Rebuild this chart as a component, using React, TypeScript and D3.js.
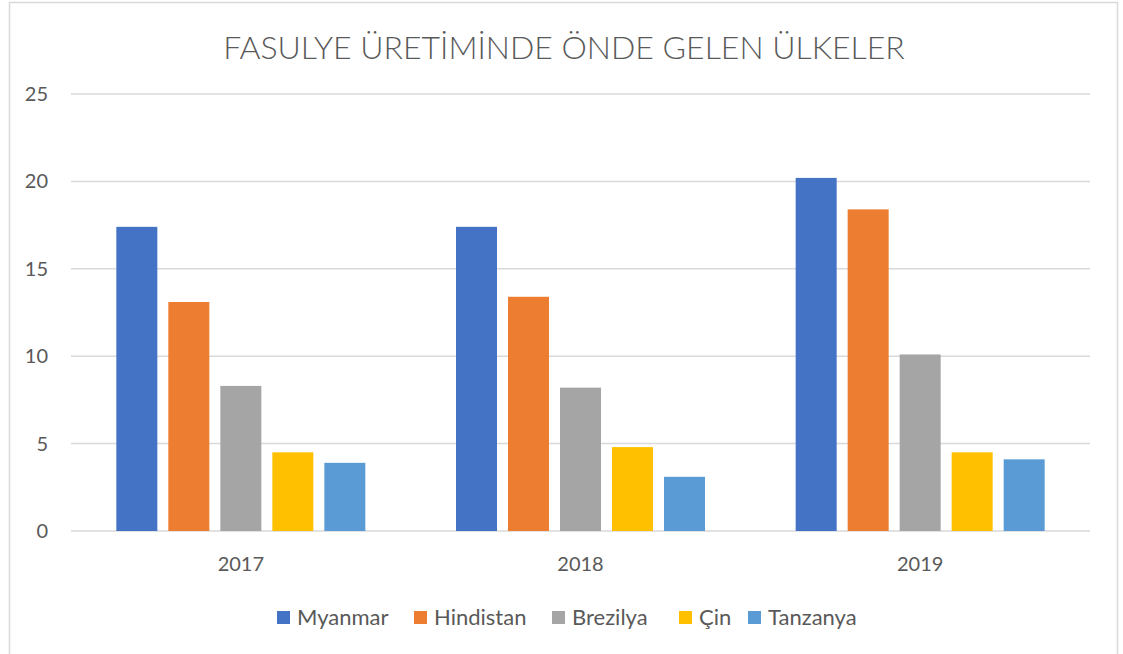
import React from "react";
import * as d3 from "d3";

const years = ["2017", "2018", "2019"];
const seriesNames = ["Myanmar", "Hindistan", "Brezilya", "Çin", "Tanzanya"];
const myanmar = [17.4, 17.4, 20.2];
const hindistan = [13.1, 13.4, 18.4];
const brezilya = [8.3, 8.2, 10.1];
const cin = [4.5, 4.8, 4.5];
const tanzanya = [3.9, 3.1, 4.1];
const yTicks = [0, 5, 10, 15, 20, 25];
const colors = ["#4472C4", "#ED7D31", "#A5A5A5", "#FFC000", "#5B9BD5"];
const title = "FASULYE ÜRETİMİNDE ÖNDE GELEN ÜLKELER";

const seriesValues = [myanmar, hindistan, brezilya, cin, tanzanya];

const W = 1123;
const H = 654;
const FONT = "Lato, 'Open Sans', sans-serif";

export default function App() {
  const left = 71, right = 1090, top = 94, bottom = 531;
  const y = d3.scaleLinear().domain([0, 25]).range([bottom, top]);
  const x0 = d3.scaleBand<string>().domain(years).range([left, right]).padding(0);
  const groupW = 249;
  const x1 = d3.scaleBand<string>().domain(seriesNames).range([0, groupW]).paddingInner(11 / 52).paddingOuter(0);
  const off = (x0.bandwidth() - groupW) / 2;

  const legendX = [277, 414, 552, 679, 748];

  return (
    <svg width={W} height={H} style={{ position: "absolute", left: 0, top: 0, background: "#fff" }}>
      <rect x={9.5} y={2.5} width={1108} height={700} fill="#fff" stroke="#d9d9d9" strokeWidth={1.5} />
      <text x={564} y={59} textAnchor="middle" fontFamily={FONT} fontWeight={300} fontSize={32} fill="#595959">
        {title}
      </text>
      {yTicks.map((t) => (
        <g key={t}>
          <line x1={left} x2={right} y1={y(t)} y2={y(t)} stroke="#d9d9d9" strokeWidth={1.5} />
          <text x={48} y={y(t) + 7} textAnchor="end" fontFamily={FONT} fontSize={20} fill="#595959">
            {t}
          </text>
        </g>
      ))}
      {years.map((yr, i) => (
        <g key={yr}>
          {seriesNames.map((s, j) => {
            const v = seriesValues[j][i];
            const bx = (x0(yr) as number) + off + (x1(s) as number);
            return (
              <rect key={s} x={bx} y={y(v)} width={x1.bandwidth()} height={y(0) - y(v)} fill={colors[j]} />
            );
          })}
          <text x={(x0(yr) as number) + x0.bandwidth() / 2} y={571} textAnchor="middle" fontFamily={FONT} fontSize={20} fill="#595959">
            {yr}
          </text>
        </g>
      ))}
      {seriesNames.map((s, j) => (
        <g key={s}>
          <rect x={legendX[j]} y={611} width={13} height={13} fill={colors[j]} />
          <text x={legendX[j] + 20} y={625} fontFamily={FONT} fontSize={22} fill="#595959">
            {s}
          </text>
        </g>
      ))}
    </svg>
  );
}
